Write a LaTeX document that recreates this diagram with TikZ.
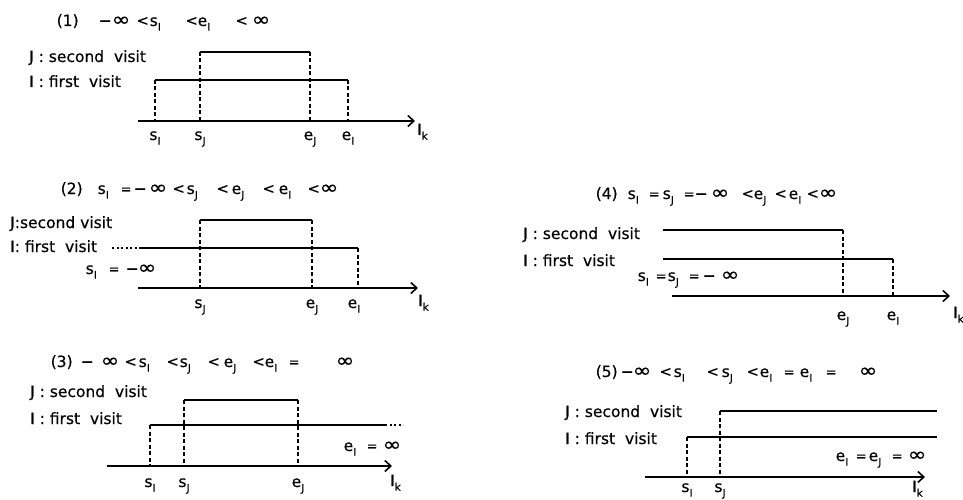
\documentclass[tikz,border=0pt]{standalone}
\usepackage{fontspec}
\usepackage{graphicx}
\newfontfamily\diagfont[FakeBold=0.4]{DejaVu Sans}
\usetikzlibrary{arrows.meta}
\newcommand{\lowix}[1]{\raisebox{-0.55ex}{\fontsize{10.5}{12}\selectfont #1}}
\newcommand{\infy}{\scalebox{1.45}[1.25]{∞}}
\newcommand{\smlt}{\raisebox{0.5pt}{\fontsize{14.5}{12}\selectfont <}}
\newcommand{\smeq}{\raisebox{0.5pt}{\fontsize{13}{12}\selectfont =}}
\newcommand{\putat}[2]{\makebox[0pt][l]{\hspace*{#1pt}#2}}

\begin{document}
\begin{tikzpicture}[>={Straight Barb[length=6pt,width=11pt]}, x=1pt, y=-1pt,
  font=\diagfont\fontsize{15.5}{18}\selectfont,
  bar/.style={line width=2.9pt},
  axis/.style={->, line width=1.6pt},
  guide/.style={line width=1.2pt, dash pattern=on 4pt off 2.5pt},
  dots/.style={line width=2.9pt, dash pattern=on 2pt off 2.5pt},
  txt/.style={anchor=base west, inner sep=0pt},
  tick/.style={anchor=base, inner sep=0pt}]
\useasboundingbox (0,0) rectangle (963,500);

% (1)
\node[txt] (title1) at (56,26) {\putat{0}{(1)}\putat{42}{−}\putat{55}{\infy}\putat{80}{\smlt}%
  \putat{93}{s\lowix{I}}\putat{129}{\smlt}\putat{141}{e\lowix{I}}\putat{179}{\smlt}\putat{195}{\infy}};
\node[txt] (second1) at (29,62) {J : second\ \ visit};
\node[txt] (first1) at (29,87) {I : first\ \ visit};
\draw[bar] (200,52) -- (310,52);
\draw[bar] (155,80) -- (348,80);
\draw[guide] (155,80) -- (155,121);
\draw[guide] (200,52) -- (200,121);
\draw[guide] (310,52) -- (310,121);
\draw[guide] (348,80) -- (348,121);
\draw[axis] (138,121) -- (415,121);
\node[tick] (sI1) at (155,140) {s\lowix{I}};
\node[tick] (sJ1) at (200,140) {s\lowix{J}};
\node[tick] (eJ1) at (310,140) {e\lowix{J}};
\node[tick] (eI1) at (348,140) {e\lowix{I}};
\node[txt] (lk1) at (417,135) {I\lowix{k}};

% (2)
\node[txt] (title2) at (60,194) {\putat{0}{(2)}\putat{37}{s\lowix{I}}\putat{60}{\smeq}\putat{73}{−}%
  \putat{88}{\infy}\putat{112}{\smlt}\putat{126}{s\lowix{J}}\putat{156}{\smlt}\putat{171}{e\lowix{J}}%
  \putat{202}{\smlt}\putat{218}{e\lowix{I}}\putat{247}{\smlt}\putat{259}{\infy}};
\node[txt] (second2) at (10,228) {J:second visit};
\node[txt] (first2) at (10,252) {I: first\ \ visit};
\node[txt] (minf2) at (85,274) {\putat{0}{s\lowix{I}}\putat{23}{\smeq}\putat{40}{−}\putat{52}{\infy}};
\draw[bar] (200,220) -- (312,220);
\draw[dots] (112,248) -- (140,248);
\draw[bar] (140,248) -- (358,248);
\draw[guide] (200,220) -- (200,288);
\draw[guide] (312,220) -- (312,288);
\draw[guide] (358,248) -- (358,288);
\draw[axis] (138,288) -- (418,288);
\node[tick] (sJ2) at (200,308) {s\lowix{J}};
\node[tick] (eJ2) at (312,308) {e\lowix{J}};
\node[tick] (eI2) at (354,308) {e\lowix{I}};
\node[txt] (lk2) at (418,306) {I\lowix{k}};

% (3)
\node[txt] (title3) at (50,367) {\putat{0}{(3)}\putat{30}{−}\putat{50}{\infy}\putat{74}{\smlt}%
  \putat{88}{s\lowix{I}}\putat{116}{\smlt}\putat{129}{s\lowix{J}}\putat{157}{\smlt}\putat{173}{e\lowix{J}}%
  \putat{202}{\smlt}\putat{214}{e\lowix{I}}\putat{238}{\smeq}\putat{285}{\infy}};
\node[txt] (second3) at (30,397) {J : second\ \ visit};
\node[txt] (first3) at (30,424) {I : first\ \ visit};
\node[txt] (inf3) at (343,451) {\putat{0}{e\lowix{I}}\putat{23}{\smeq}\putat{39}{\infy}};
\draw[bar] (184,400) -- (298,400);
\draw[bar] (150,425) -- (385,425);
\draw[dots] (385,425) -- (403,425);
\draw[guide] (150,425) -- (150,466);
\draw[guide] (184,400) -- (184,466);
\draw[guide] (298,400) -- (298,466);
\draw[axis] (107,466) -- (392,466);
\node[tick] (sI3) at (150,487) {s\lowix{I}};
\node[tick] (sJ3) at (184,487) {s\lowix{J}};
\node[tick] (eJ3) at (298,487) {e\lowix{J}};
\node[txt] (lk3) at (390,486) {I\lowix{k}};

% (4)
\node[txt] (title4) at (595,199) {\putat{0}{(4)}\putat{32}{s\lowix{I}}\putat{53}{\smeq}\putat{67}{s\lowix{J}}%
  \putat{88}{\smeq}\putat{99}{−}\putat{115}{\infy}\putat{146}{\smlt}\putat{158}{e\lowix{J}}%
  \putat{179}{\smlt}\putat{193}{e\lowix{I}}\putat{211}{\smlt}\putat{223}{\infy}};
\node[txt] (second4) at (523,239) {J : second\ \ visit};
\node[txt] (first4) at (523,266) {I : first\ \ visit};
\node[txt] (minf4) at (637,281) {\putat{0}{s\lowix{I}}\putat{18}{\smeq}\putat{30}{s\lowix{J}}%
  \putat{51}{\smeq}\putat{65}{−}\putat{83}{\infy}};
\draw[bar] (663,230) -- (843,230);
\draw[bar] (663,259) -- (893,259);
\draw[guide] (843,230) -- (843,296);
\draw[guide] (893,259) -- (893,296);
\draw[axis] (672,296) -- (950,296);
\node[tick] (eJ4) at (843,320) {e\lowix{J}};
\node[tick] (eI4) at (893,320) {e\lowix{I}};
\node[txt] (lk4) at (953,318) {I\lowix{k}};

% (5)
\node[txt] (title5) at (595,377) {\putat{0}{(5)}\putat{25}{−}\putat{37}{\infy}\putat{64}{\smlt}%
  \putat{78}{s\lowix{I}}\putat{111}{\smlt}\putat{126}{s\lowix{J}}\putat{151}{\smlt}\putat{164}{e\lowix{I}}%
  \putat{188}{\smeq}\putat{204}{e\lowix{I}}\putat{230}{\smeq}\putat{263}{\infy}};
\node[txt] (second5) at (565,417) {J : second\ \ visit};
\node[txt] (first5) at (565,444) {I : first\ \ visit};
\node[txt] (inf5) at (835,461) {\putat{0}{e\lowix{I}}\putat{20}{\smeq}\putat{33}{e\lowix{J}}%
  \putat{56}{\smeq}\putat{72}{\infy}};
\draw[bar] (720,411) -- (937,411);
\draw[bar] (687,437) -- (937,437);
\draw[guide] (687,437) -- (687,477);
\draw[guide] (720,411) -- (720,477);
\draw[axis] (645,477) -- (925,477);
\node[tick] (sI5) at (687,492) {s\lowix{I}};
\node[tick] (sJ5) at (720,492) {s\lowix{J}};
\node[txt] (lk5) at (912,492) {I\lowix{k}};
\end{tikzpicture}
\end{document}
